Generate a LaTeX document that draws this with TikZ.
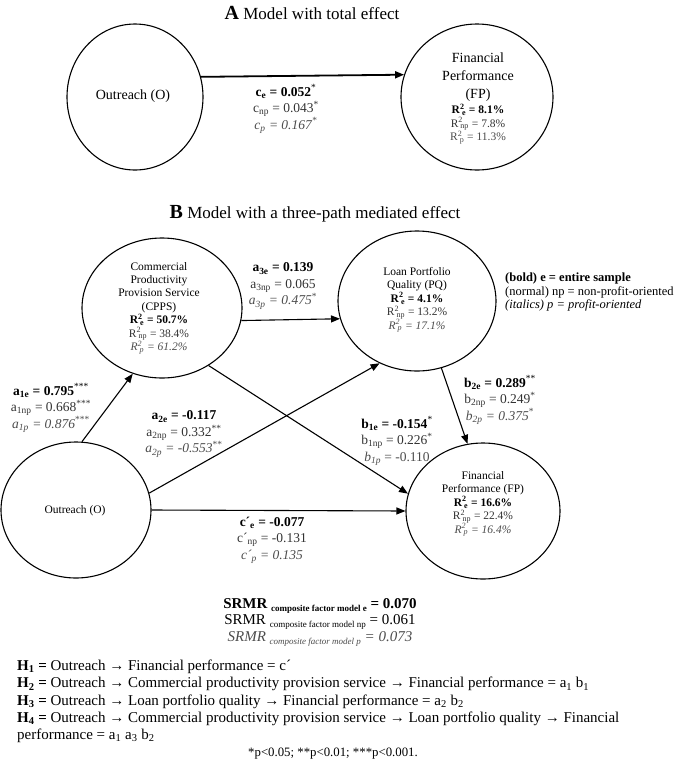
\documentclass[tikz,border=0pt]{standalone}
\usepackage{fontspec}
\setmainfont{Liberation Serif}
\usetikzlibrary{shapes.geometric,arrows.meta}
\definecolor{npc}{gray}{0.2}
\definecolor{pc}{gray}{0.3}
\newcommand\Rtwo[1]{R\textsuperscript{2}\kern-0.22em\textsubscript{#1}}
\newcommand\srsub[1]{\raisebox{-3pt}{\fontsize{9}{9}\selectfont #1}}
\begin{document}
\begin{tikzpicture}[x=1pt,y=-1pt,
  ell/.style={draw, ellipse, line width=1.1pt, inner sep=0pt},
  etxt/.style={align=center, inner sep=0pt, font=\fontsize{11.5}{13.4}\selectfont},
  lab/.style={align=center, inner sep=0pt, font=\fontsize{13.5}{16.5}\selectfont},
  arr/.style={-{Triangle[length=9pt,width=7pt]}, line width=1.1pt}]
\useasboundingbox (0,0) rectangle (685,761);

% ---------- A ----------
\node[font=\fontsize{17}{20}\selectfont, inner sep=0pt] (titA) at (312,13)
  {{\fontsize{20}{20}\selectfont\textbf{A}} Model with total effect};
\node[ell, minimum width=136pt, minimum height=146pt] (OA) at (135,97) {};
\node[font=\fontsize{14}{17}\selectfont, inner sep=0pt] (OAt) at (133,96) {Outreach (O)};
\node[ell, minimum width=152pt, minimum height=146pt] (FPA) at (477,97) {};
\node[align=center, inner sep=0pt, font=\fontsize{14}{18}\selectfont] (FPAt1) at (478,77)
  {Financial\\ Performance\\ (FP)};
\node[align=center, inner sep=0pt, font=\fontsize{11.5}{13.5}\selectfont] (FPAt2) at (478,124)
  {\textbf{\Rtwo{e} = 8.1\%}\\ {\color{npc}\Rtwo{np} = 7.8\%}\\ {\color{pc}\Rtwo{p} = 11.3\%}};
\draw[arr, line width=1.8pt] (OA.17.9) -- (FPA.163.9);
\node[lab] (cA) at (286,109)
  {\textbf{c\textsubscript{e} = 0.052}\textsuperscript{*}\\
   {\color{npc}c\textsubscript{np} = 0.043\textsuperscript{*}}\\
   {\color{pc}\textit{c\textsubscript{p} = 0.167}\textsuperscript{*}}};

% ---------- B ----------
\node[font=\fontsize{17}{20}\selectfont, inner sep=0pt] (titB) at (315,214)
  {{\fontsize{20}{20}\selectfont\textbf{B}} Model with a three-path mediated effect};

\node[ell, minimum width=160pt, minimum height=140pt] (CPPS) at (162,308) {};
\node[etxt] (CPPSt) at (159,308)
  {Commercial\\ Productivity\\ Provision Service\\ (CPPS)\\
   \textbf{\Rtwo{e} = 50.7\%}\\ {\color{npc}\Rtwo{np} = 38.4\%}\\ {\color{pc}\textit{\Rtwo{p} = 61.2\%}}};

\node[ell, minimum width=158pt, minimum height=140pt] (PQ) at (417,301) {};
\node[etxt] (PQt) at (417,300)
  {Loan Portfolio\\ Quality (PQ)\\
   \textbf{\Rtwo{e} = 4.1\%}\\ {\color{npc}\Rtwo{np} = 13.2\%}\\ {\color{pc}\textit{\Rtwo{p} = 17.1\%}}};

\node[ell, minimum width=150pt, minimum height=136pt] (OB) at (76,510) {};
\node[etxt] (OBt) at (75,511) {Outreach (O)};

\node[ell, minimum width=154pt, minimum height=136pt] (FPB) at (483,511) {};
\node[etxt] (FPBt) at (483,504)
  {Financial\\ Performance (FP)\\
   \textbf{\Rtwo{e} = 16.6\%}\\ {\color{npc}\Rtwo{np} = 22.4\%}\\ {\color{pc}\textit{\Rtwo{p} = 16.4\%}}};

% legend
\node[align=left, anchor=west, inner sep=0pt, font=\fontsize{12.5}{13.6}\selectfont] (leg) at (505,292)
  {\textbf{(bold) e = entire sample}\\ (normal) np = non-profit-oriented\\ \textit{(italics) p = profit-oriented}};

% connectors
\draw[arr] (OB.85) -- (CPPS.246);
\draw[arr] (CPPS.-9) -- (PQ.193);
\draw[arr] (OB.13) -- (PQ.239);
\draw[arr] (CPPS.-51) -- (FPB.167);
\draw[arr] (PQ.-70) -- (FPB.103);
\draw[arr] (OB.0) -- (FPB.180);

% labels
\node[lab] (la1) at (51,408)
  {\textbf{a\textsubscript{1e} = 0.795}\textsuperscript{***}\\
   {\color{npc}a\textsubscript{1np} = 0.668\textsuperscript{***}}\\
   {\color{pc}\textit{a\textsubscript{1p} = 0.876}\textsuperscript{***}}};
\node[lab] (la3) at (283,286)
  {\textbf{a\textsubscript{3e} = 0.139}\\
   {\color{npc}a\textsubscript{3np} = 0.065}\\
   {\color{pc}\textit{a\textsubscript{3p} = 0.475}\textsuperscript{*}}};
\node[lab] (la2) at (184,434)
  {\textbf{a\textsubscript{2e} = -0.117}\\
   {\color{npc}a\textsubscript{2np} = 0.332\textsuperscript{**}}\\
   {\color{pc}\textit{a\textsubscript{2p} = -0.553}\textsuperscript{**}}};
\node[lab] (lb1) at (397,441)
  {\textbf{b\textsubscript{1e} = -0.154}\textsuperscript{*}\\
   {\color{npc}b\textsubscript{1np} = 0.226\textsuperscript{*}}\\
   {\color{pc}\textit{b\textsubscript{1p}} = -0.110}};
\node[lab] (lb2) at (500,400)
  {\textbf{b\textsubscript{2e} = 0.289}\textsuperscript{**}\\
   {\color{npc}b\textsubscript{2np} = 0.249\textsuperscript{*}}\\
   {\color{pc}\textit{b\textsubscript{2p} = 0.375}\textsuperscript{*}}};
\node[lab] (lc) at (272,540)
  {\textbf{c´\textsubscript{e} = -0.077}\\
   {\color{npc}c´\textsubscript{np} = -0.131}\\
   {\color{pc}\textit{c´\textsubscript{p} = 0.135}}};

% SRMR
\node[align=center, inner sep=0pt, font=\fontsize{15}{16.5}\selectfont] (srmr) at (320,622)
  {\textbf{SRMR \srsub{composite factor model e} = 0.070}\\
   SRMR \srsub{composite factor model np} = 0.061\\
   {\color{pc}\textit{SRMR \srsub{composite factor model p} = 0.073}}};

% hypotheses
\node[align=left, anchor=north west, inner sep=0pt, font=\fontsize{15}{17.2}\selectfont] (hyp) at (17,660)
  {\textbf{H\textsubscript{1} =} Outreach → Financial performance = c´\\
   \textbf{H\textsubscript{2} =} Outreach → Commercial productivity provision service → Financial performance = a\textsubscript{1} b\textsubscript{1}\\
   \textbf{H\textsubscript{3} =} Outreach → Loan portfolio quality → Financial performance = a\textsubscript{2} b\textsubscript{2}\\
   \textbf{H\textsubscript{4} =} Outreach → Commercial productivity provision service → Loan portfolio quality → Financial\\
   performance = a\textsubscript{1} a\textsubscript{3} b\textsubscript{2}};
\node[inner sep=0pt, font=\fontsize{12.8}{14}\selectfont] (foot) at (333,754)
  {*p<0.05; **p<0.01; ***p<0.001.};
\end{tikzpicture}
\end{document}
